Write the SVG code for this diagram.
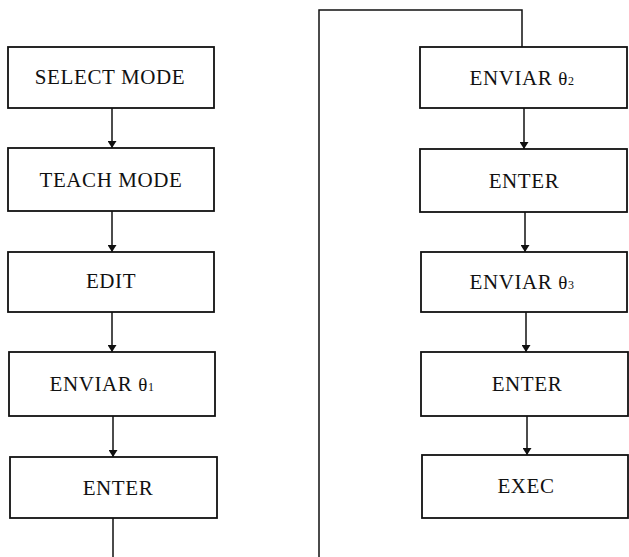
<svg xmlns="http://www.w3.org/2000/svg" width="629" height="557" viewBox="0 0 629 557">
  <style>
    .box rect { fill: #ffffff; stroke: #111111; stroke-width: 1.8; }
    .box text { font-family: "Liberation Serif", "Times New Roman", serif; font-size: 21px; fill: #111111; text-anchor: middle; letter-spacing: 0.6px; }
    .box .th { font-size: 19px; }
    .box .sub { font-size: 12px; }
    .wire { fill: none; stroke: #111111; stroke-width: 1.5; }
  </style>
  <defs>
    <marker id="arrow" viewBox="0 0 7 9" refX="7" refY="4.5" markerWidth="7" markerHeight="9" markerUnits="userSpaceOnUse" orient="auto">
      <path d="M0,0 L7,4.5 L0,9 Z" fill="#111111"/>
    </marker>
  </defs>
  <rect width="629" height="557" fill="#ffffff"/>

  <!-- connectors -->
  <g id="connectors">
    <line class="wire" x1="112" y1="108" x2="112" y2="148" marker-end="url(#arrow)"/>
    <line class="wire" x1="112" y1="211" x2="112" y2="252" marker-end="url(#arrow)"/>
    <line class="wire" x1="112" y1="312" x2="112" y2="352" marker-end="url(#arrow)"/>
    <line class="wire" x1="113" y1="416" x2="113" y2="457" marker-end="url(#arrow)"/>
    <polyline class="wire" points="113,518 113,564 319,564 319,10 522,10 522,47"/>
    <line class="wire" x1="524" y1="108" x2="524" y2="149" marker-end="url(#arrow)"/>
    <line class="wire" x1="525" y1="212" x2="525" y2="252" marker-end="url(#arrow)"/>
    <line class="wire" x1="526" y1="312" x2="526" y2="352" marker-end="url(#arrow)"/>
    <line class="wire" x1="527" y1="416" x2="527" y2="455" marker-end="url(#arrow)"/>
  </g>

  <!-- left column -->
  <g id="select-mode" class="box">
    <rect x="8" y="47" width="206" height="61"/>
    <text x="110" y="84">SELECT MODE</text>
  </g>
  <g id="teach-mode" class="box">
    <rect x="8" y="148" width="206" height="63"/>
    <text x="111" y="187">TEACH MODE</text>
  </g>
  <g id="edit" class="box">
    <rect x="8" y="252" width="206" height="60"/>
    <text x="111" y="288">EDIT</text>
  </g>
  <g id="enviar-1" class="box">
    <rect x="9" y="352" width="206" height="64"/>
    <text x="102" y="391">ENVIAR <tspan class="th">θ</tspan><tspan class="sub">1</tspan></text>
  </g>
  <g id="enter-1" class="box">
    <rect x="10" y="457" width="207" height="61"/>
    <text x="118" y="495">ENTER</text>
  </g>

  <!-- right column -->
  <g id="enviar-2" class="box">
    <rect x="420" y="47" width="207" height="61"/>
    <text x="522" y="85">ENVIAR <tspan class="th">θ</tspan><tspan class="sub">2</tspan></text>
  </g>
  <g id="enter-2" class="box">
    <rect x="420" y="149" width="207" height="63"/>
    <text x="524" y="188">ENTER</text>
  </g>
  <g id="enviar-3" class="box">
    <rect x="421" y="252" width="206" height="60"/>
    <text x="522" y="289">ENVIAR <tspan class="th">θ</tspan><tspan class="sub">3</tspan></text>
  </g>
  <g id="enter-3" class="box">
    <rect x="421" y="352" width="207" height="64"/>
    <text x="527" y="391">ENTER</text>
  </g>
  <g id="exec" class="box">
    <rect x="422" y="455" width="206" height="63"/>
    <text x="526" y="493">EXEC</text>
  </g>
</svg>
